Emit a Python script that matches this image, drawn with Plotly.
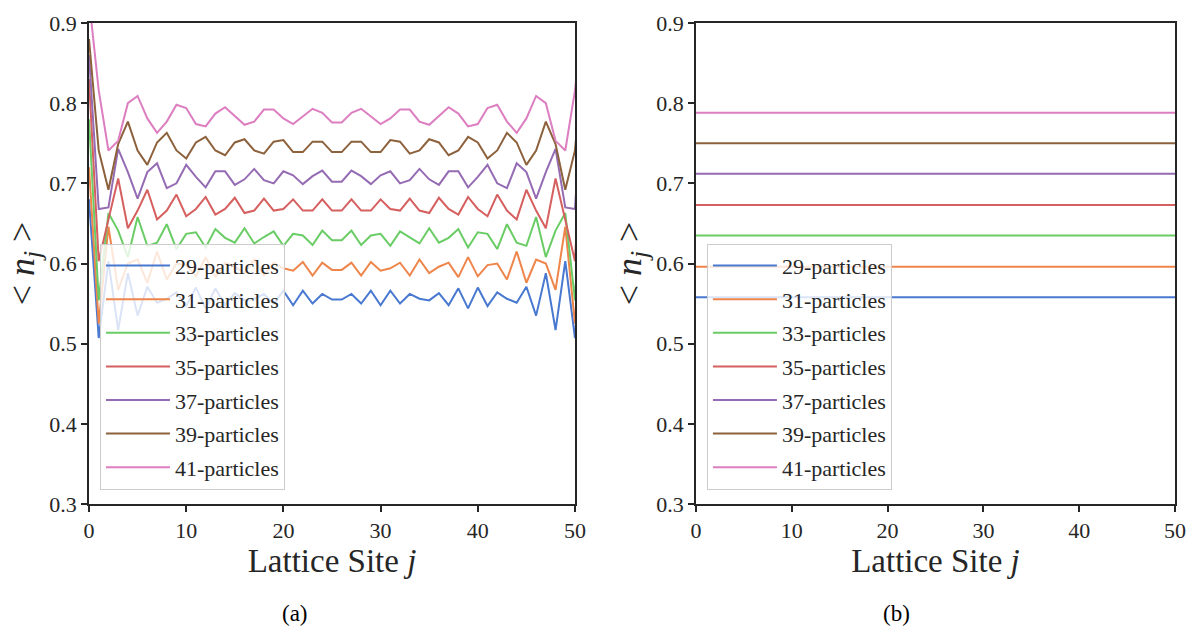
import plotly.graph_objects as go

# Lattice sites 0..51 (axis shows 0..50)
sites = list(range(52))

particle_counts = [29, 31, 33, 35, 37, 39, 41]
labels = [f"{n}-particles" for n in particle_counts]

# seaborn "muted" palette
colors = ["#4878d0", "#ee854a", "#6acc64", "#d65f5f", "#956cb4", "#8c613c", "#dc7ec0"]

# (a) site-resolved occupation <n_j>
n29 = [0.680, 0.507, 0.603, 0.517, 0.588, 0.535, 0.571, 0.551, 0.556, 0.564,
       0.547, 0.570, 0.544, 0.569, 0.548, 0.563, 0.554, 0.556, 0.562, 0.550,
       0.566, 0.548, 0.566, 0.550, 0.562, 0.555, 0.555, 0.562, 0.550, 0.566,
       0.548, 0.566, 0.550, 0.562, 0.556, 0.554, 0.563, 0.548, 0.569, 0.544,
       0.570, 0.547, 0.564, 0.556, 0.551, 0.571, 0.535, 0.588, 0.517, 0.603,
       0.507, 0.680]
n31 = [0.720, 0.525, 0.646, 0.567, 0.600, 0.605, 0.576, 0.615, 0.580, 0.600,
       0.598, 0.584, 0.608, 0.583, 0.601, 0.596, 0.588, 0.605, 0.585, 0.601,
       0.594, 0.591, 0.602, 0.585, 0.601, 0.592, 0.592, 0.601, 0.585, 0.602,
       0.591, 0.594, 0.601, 0.585, 0.605, 0.588, 0.596, 0.601, 0.583, 0.608,
       0.584, 0.598, 0.600, 0.580, 0.615, 0.576, 0.605, 0.600, 0.567, 0.646,
       0.525, 0.720]
n33 = [0.780, 0.554, 0.663, 0.641, 0.608, 0.658, 0.622, 0.626, 0.649, 0.618,
       0.637, 0.639, 0.620, 0.643, 0.632, 0.626, 0.644, 0.625, 0.633, 0.640,
       0.622, 0.637, 0.635, 0.623, 0.641, 0.629, 0.629, 0.641, 0.623, 0.635,
       0.637, 0.622, 0.640, 0.633, 0.625, 0.644, 0.626, 0.632, 0.643, 0.620,
       0.639, 0.637, 0.618, 0.649, 0.626, 0.622, 0.658, 0.608, 0.641, 0.663,
       0.554, 0.780]
n35 = [0.830, 0.603, 0.655, 0.706, 0.644, 0.666, 0.692, 0.655, 0.666, 0.686,
       0.659, 0.668, 0.683, 0.661, 0.668, 0.682, 0.663, 0.666, 0.681, 0.666,
       0.668, 0.680, 0.666, 0.666, 0.680, 0.666, 0.666, 0.680, 0.666, 0.666,
       0.680, 0.668, 0.666, 0.681, 0.666, 0.663, 0.682, 0.668, 0.661, 0.683,
       0.668, 0.659, 0.686, 0.666, 0.655, 0.692, 0.666, 0.644, 0.706, 0.655,
       0.603, 0.830]
n37 = [0.860, 0.668, 0.670, 0.743, 0.714, 0.681, 0.714, 0.725, 0.694, 0.700,
       0.723, 0.708, 0.695, 0.715, 0.715, 0.698, 0.705, 0.718, 0.704, 0.700,
       0.715, 0.710, 0.699, 0.709, 0.716, 0.702, 0.702, 0.716, 0.709, 0.699,
       0.710, 0.715, 0.700, 0.704, 0.718, 0.705, 0.698, 0.715, 0.715, 0.695,
       0.708, 0.723, 0.700, 0.694, 0.725, 0.714, 0.681, 0.714, 0.743, 0.670,
       0.668, 0.860]
n39 = [0.880, 0.741, 0.692, 0.749, 0.777, 0.741, 0.723, 0.751, 0.763, 0.741,
       0.731, 0.751, 0.758, 0.741, 0.735, 0.751, 0.755, 0.741, 0.737, 0.752,
       0.754, 0.739, 0.739, 0.752, 0.752, 0.739, 0.739, 0.752, 0.752, 0.739,
       0.739, 0.754, 0.752, 0.737, 0.741, 0.755, 0.751, 0.735, 0.741, 0.758,
       0.751, 0.731, 0.741, 0.763, 0.751, 0.723, 0.741, 0.777, 0.749, 0.692,
       0.741, 0.880]
n41 = [0.930, 0.816, 0.741, 0.753, 0.800, 0.809, 0.781, 0.763, 0.777, 0.798,
       0.794, 0.774, 0.771, 0.787, 0.795, 0.784, 0.773, 0.777, 0.792, 0.792,
       0.781, 0.774, 0.783, 0.793, 0.788, 0.776, 0.776, 0.788, 0.793, 0.783,
       0.774, 0.781, 0.792, 0.792, 0.777, 0.773, 0.784, 0.795, 0.787, 0.771,
       0.774, 0.794, 0.798, 0.777, 0.763, 0.781, 0.809, 0.800, 0.753, 0.741,
       0.816, 0.930]
site_profiles = [n29, n31, n33, n35, n37, n39, n41]

# (b) uniform density per particle number
mean_density = [0.558, 0.596, 0.635, 0.673, 0.712, 0.750, 0.788]

x_ticks = [0, 10, 20, 30, 40, 50]
y_ticks = [0.3, 0.4, 0.5, 0.6, 0.7, 0.8, 0.9]

FONT = "'Liberation Serif', 'DejaVu Serif', 'Times New Roman', serif"
INK = "#262626"

fig = go.Figure()

for i, (lab, col, prof) in enumerate(zip(labels, colors, site_profiles)):
    fig.add_trace(go.Scatter(
        x=sites, y=prof, mode="lines", name=lab,
        line=dict(color=col, width=2),
        xaxis="x", yaxis="y", legend="legend", legendgroup=f"a{i}",
    ))

for i, (lab, col, rho) in enumerate(zip(labels, colors, mean_density)):
    fig.add_trace(go.Scatter(
        x=[sites[0], sites[-1]], y=[rho, rho], mode="lines", name=lab,
        line=dict(color=col, width=2),
        xaxis="x2", yaxis="y2", legend="legend2", legendgroup=f"b{i}",
    ))


def axis_style():
    return dict(
        showgrid=False, zeroline=False, showline=True, mirror=True,
        linecolor=INK, linewidth=1.5,
        ticks="outside", ticklen=6, tickwidth=1.5, tickcolor=INK,
        tickfont=dict(family=FONT, size=22, color=INK),
    )


xtitle = dict(text="Lattice Site <i>j</i>", font=dict(family=FONT, size=33, color=INK), standoff=4)
ytitle = dict(text="&lt; <i>n</i><sub><i>j</i></sub> &gt;", font=dict(family=FONT, size=36, color=INK), standoff=4)

legend_common = dict(
    xanchor="left", yanchor="top",
    bgcolor="rgba(255,255,255,0.8)", bordercolor="#cccccc", borderwidth=1,
    font=dict(family=FONT, size=22, color=INK), tracegroupgap=2, itemwidth=64,
)

fig.update_layout(
    width=1199, height=635,
    margin=dict(l=89, r=24, t=11, b=131),
    paper_bgcolor="white", plot_bgcolor="white",
    font=dict(family=FONT, color=INK),
    showlegend=True,
    xaxis=dict(domain=[0, 0.4475], range=[0, 50], tickvals=x_ticks, title=xtitle, **axis_style()),
    yaxis=dict(range=[0.3, 0.9], tickvals=y_ticks, tickformat=".1f", title=ytitle, **axis_style()),
    xaxis2=dict(domain=[0.5589, 1], range=[0, 50], tickvals=x_ticks, title=xtitle,
                anchor="y2", **axis_style()),
    yaxis2=dict(range=[0.3, 0.9], tickvals=y_ticks, tickformat=".1f", title=ytitle,
                anchor="x2", **axis_style()),
    legend=dict(x=0.0101, y=0.541, **legend_common),
    legend2=dict(x=0.5690, y=0.541, **legend_common),
    annotations=[
        dict(text="(a)", x=0.1897, y=-0.2275, xref="paper", yref="paper",
             xanchor="center", yanchor="middle",
             showarrow=False, font=dict(family=FONT, size=23, color="black")),
        dict(text="(b)", x=0.7431, y=-0.2275, xref="paper", yref="paper",
             xanchor="center", yanchor="middle",
             showarrow=False, font=dict(family=FONT, size=23, color="black")),
    ],
)

fig.write_html("out.html")
